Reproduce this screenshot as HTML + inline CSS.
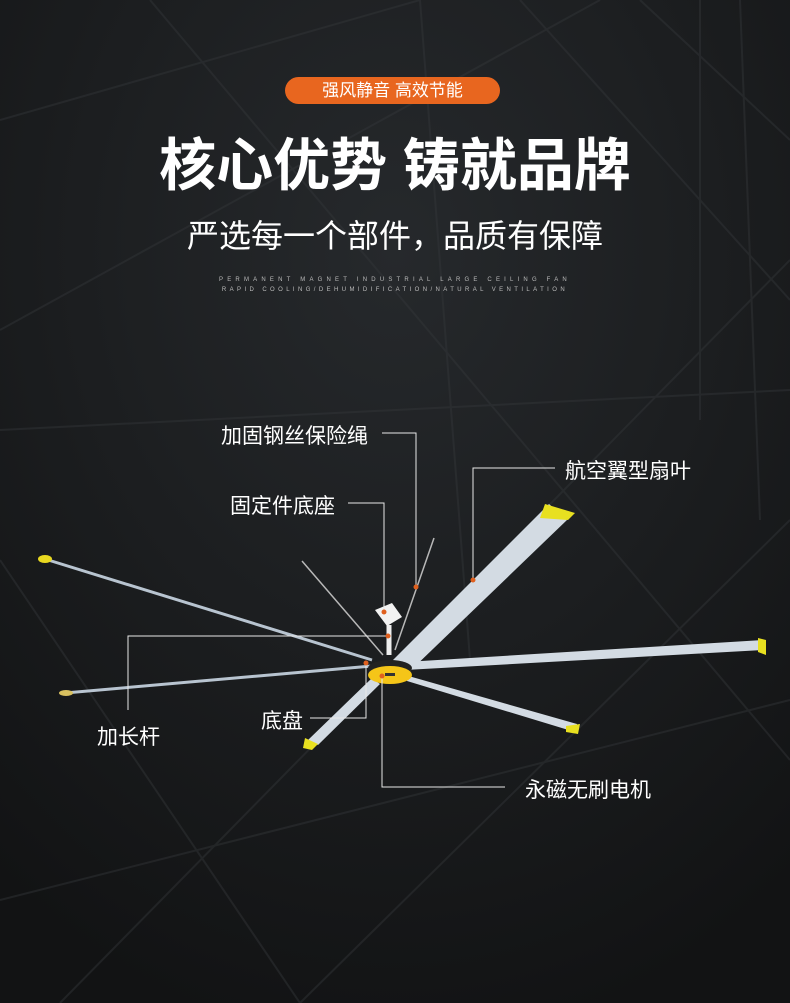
<!DOCTYPE html>
<html><head><meta charset="utf-8"><style>
html,body{margin:0;padding:0}
body{width:790px;height:1003px;overflow:hidden;background:#1b1d1f;font-family:"Liberation Sans","Noto Sans CJK SC",sans-serif;position:relative}
.t{position:absolute;color:#fff;white-space:nowrap}
</style></head><body>
<svg width="790" height="1003" style="position:absolute;left:0;top:0">
<defs>
<radialGradient id="bg" cx="50%" cy="25%" r="80%">
<stop offset="0" stop-color="#26292c"/><stop offset="1" stop-color="#121314"/></radialGradient>
</defs>
<rect width="790" height="1003" fill="url(#bg)"/>
<g stroke="#34373a" stroke-width="2" fill="none" opacity="0.45">
<path d="M0 120 L420 0 M0 330 L600 0 M60 1003 L790 260 M300 1003 L790 520 M520 0 L790 300 M640 0 L790 140 M0 560 L300 1003 M150 0 L790 760 M0 430 L790 390"/>
<path d="M420 0 L470 660 M700 0 L700 420 M740 0 L760 520 M0 900 L790 700"/>
</g>
<line x1="45" y1="559" x2="372" y2="660" stroke="#b8c4d0" stroke-width="3"/>
<line x1="65" y1="693" x2="372" y2="666" stroke="#b8c4d0" stroke-width="3"/>
<ellipse cx="45" cy="559" rx="7" ry="4" fill="#e8d820"/>
<ellipse cx="66" cy="693" rx="7" ry="3" fill="#d8c060"/>
<polygon points="393,660 407,674 567,520 549,504" fill="#d3dbe3"/>
<polygon points="545,504 575,513 568,520 540,518" fill="#e8e020"/>
<polygon points="405,662 405,670 763,650 763,640" fill="#d3dbe3"/>
<polygon points="758,638 766,640 766,655 758,652" fill="#e8e020"/>
<polygon points="405,675 407,681 575,732 577,724" fill="#d3dbe3"/>
<polygon points="566,726 580,724 578,734 566,732" fill="#e8e020"/>
<polygon points="372,678 380,684 318,745 308,740" fill="#d3dbe3"/>
<polygon points="305,738 318,744 312,750 303,748" fill="#e8e020"/>
<line x1="302" y1="561" x2="383" y2="655" stroke="#b8b8b8" stroke-width="1.5"/>
<line x1="434" y1="538" x2="395" y2="650" stroke="#b8b8b8" stroke-width="1.5"/>
<line x1="389" y1="625" x2="389" y2="655" stroke="#eee" stroke-width="5"/>
<polygon points="375,610 392,603 402,617 387,626" fill="#f2f2f2"/>
<ellipse cx="390" cy="668" rx="22" ry="8" fill="#222"/>
<ellipse cx="390" cy="675" rx="22" ry="9" fill="#f5c518"/>
<rect x="385" y="673" width="10" height="3" fill="#333"/>
<g stroke="#e8e8e8" stroke-width="1" fill="none">
<path d="M382 433 H416 V587"/>
<path d="M348 503 H384 V612"/>
<path d="M128 710 V636 H388"/>
<path d="M555 468 H473 V580"/>
<path d="M310 718 H366 V663"/>
<path d="M505 787 H382 V676"/>
</g>
<g fill="#e0601e">
<circle cx="416" cy="587" r="2.5"/><circle cx="384" cy="612" r="2.5"/><circle cx="388" cy="636" r="2.5"/>
<circle cx="473" cy="580" r="2.5"/><circle cx="366" cy="663" r="2.5"/><circle cx="382" cy="676" r="2.5"/>
</g>
</svg>
<div style="position:absolute;left:285px;top:77px;width:215px;height:27px;border-radius:14px;background:#e8661f;color:#fff;font-size:17px;line-height:27px;text-align:center">强风静音 高效节能</div>
<div class="t" style="left:0;width:790px;text-align:center;top:130px;font-size:57px;font-weight:bold;line-height:72px">核心优势 铸就品牌</div>
<div class="t" style="left:0;width:790px;text-align:center;top:214px;font-size:32px;line-height:44px">严选每一个部件，品质有保障</div>
<div class="t" style="left:0;width:790px;text-align:center;top:277px;font-size:6px;letter-spacing:4.2px;color:#bbb">PERMANENT MAGNET INDUSTRIAL LARGE CEILING FAN</div>
<div class="t" style="left:0;width:790px;text-align:center;top:287px;font-size:6px;letter-spacing:3.4px;color:#bbb">RAPID COOLING/DEHUMIDIFICATION/NATURAL VENTILATION</div>
<div class="t" style="left:221px;top:420px;font-size:21px">加固钢丝保险绳</div>
<div class="t" style="left:230px;top:490px;font-size:21px">固定件底座</div>
<div class="t" style="left:565px;top:455px;font-size:21px">航空翼型扇叶</div>
<div class="t" style="left:261px;top:705px;font-size:21px">底盘</div>
<div class="t" style="left:97px;top:721px;font-size:21px">加长杆</div>
<div class="t" style="left:525px;top:774px;font-size:21px">永磁无刷电机</div>
</body></html>
